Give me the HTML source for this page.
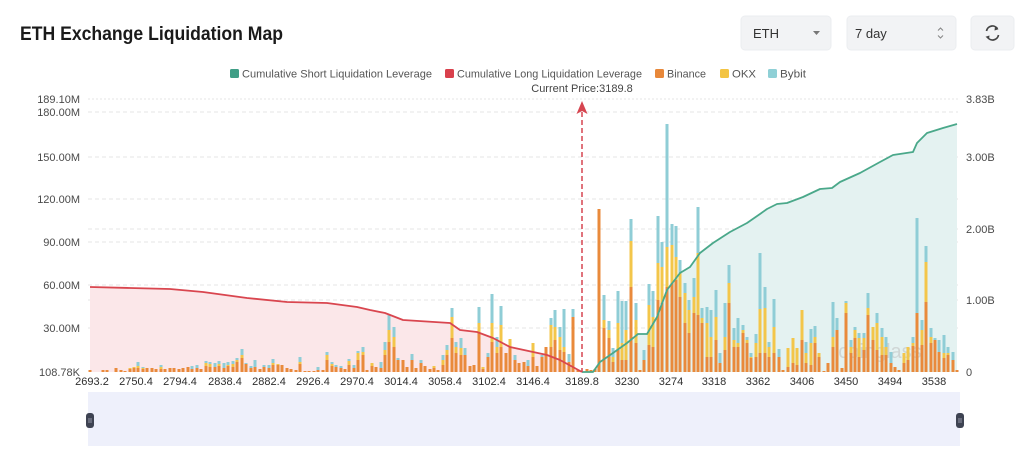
<!DOCTYPE html>
<html><head><meta charset="utf-8"><style>
html,body{margin:0;padding:0;background:#fff;}
svg{display:block;font-family:"Liberation Sans",sans-serif;}
</style></head><body>
<svg width="1024" height="458" viewBox="0 0 1024 458" xmlns="http://www.w3.org/2000/svg">
<rect width="1024" height="458" fill="#fff"/>
<!-- header -->
<text x="20" y="40" font-size="19" font-weight="bold" fill="#1a1a1a" textLength="263" lengthAdjust="spacingAndGlyphs">ETH Exchange Liquidation Map</text>
<rect x="741" y="16" width="90" height="34" rx="4" fill="#f2f3f5" stroke="#ebedf0" stroke-width="1"/>
<text x="753" y="38" font-size="13" fill="#333">ETH</text>
<path d="M813 31l3.5 4 3.5-4z" fill="#777"/>
<rect x="847" y="16" width="109" height="34" rx="4" fill="#f2f3f5" stroke="#ebedf0" stroke-width="1"/>
<text x="855" y="38" font-size="13" fill="#333">7 day</text>
<path d="M938 30.5l2.5-2.5 2.5 2.5M938 35.5l2.5 2.5 2.5-2.5" stroke="#888" stroke-width="1.1" fill="none"/>
<rect x="971" y="16" width="43" height="34" rx="4" fill="#f2f3f5" stroke="#ebedf0" stroke-width="1"/>
<g stroke="#444" stroke-width="1.7" fill="none">
<path d="M986.5 31a6 6 0 0 1 11-2.2"/>
<path d="M998.5 35a6 6 0 0 1-11 2.2"/>
</g>
<path d="M995 26.5l3.5 2.8-4 1.2z M989 39.5l-3.5-2.8 4-1.2z" fill="#444"/>
<!-- legend -->
<g font-size="11" fill="#555">
<rect x="230" y="69" width="9" height="9" rx="1.5" fill="#3f9e86"/>
<text x="242" y="77.5" textLength="190" lengthAdjust="spacingAndGlyphs">Cumulative Short Liquidation Leverage</text>
<rect x="445" y="69" width="9" height="9" rx="1.5" fill="#d9404c"/>
<text x="457" y="77.5" textLength="185" lengthAdjust="spacingAndGlyphs">Cumulative Long Liquidation Leverage</text>
<rect x="655" y="69" width="9" height="9" rx="1.5" fill="#e8883a"/>
<text x="667" y="77.5" textLength="39" lengthAdjust="spacingAndGlyphs">Binance</text>
<rect x="720" y="69" width="9" height="9" rx="1.5" fill="#f3c443"/>
<text x="732" y="77.5" textLength="24" lengthAdjust="spacingAndGlyphs">OKX</text>
<rect x="768" y="69" width="9" height="9" rx="1.5" fill="#8fd0d6"/>
<text x="780" y="77.5" textLength="26" lengthAdjust="spacingAndGlyphs">Bybit</text>
</g>
<text x="582" y="92" font-size="11" fill="#444" text-anchor="middle">Current Price:3189.8</text>
<!-- grid -->
<g stroke="#e4e4e4" stroke-width="1" stroke-dasharray="4 3">
<line x1="88" y1="99" x2="958" y2="99" stroke-dasharray="2 2"/>
<line x1="88" y1="112" x2="958" y2="112"/>
<line x1="88" y1="157" x2="958" y2="157"/>
<line x1="88" y1="199" x2="958" y2="199"/>
<line x1="88" y1="229" x2="958" y2="229"/>
<line x1="88" y1="242" x2="958" y2="242"/>
<line x1="88" y1="285" x2="958" y2="285"/>
<line x1="88" y1="300" x2="958" y2="300"/>
<line x1="88" y1="328" x2="958" y2="328"/>
</g>
<!-- y labels -->
<g font-size="11" fill="#4a4a4a" text-anchor="end">
<text x="80" y="103">189.10M</text>
<text x="80" y="116">180.00M</text>
<text x="80" y="161">150.00M</text>
<text x="80" y="203">120.00M</text>
<text x="80" y="246">90.00M</text>
<text x="80" y="289">60.00M</text>
<text x="80" y="332">30.00M</text>
<text x="80" y="376">108.78K</text>
</g>
<g font-size="11" fill="#4a4a4a">
<text x="966" y="103">3.83B</text>
<text x="966" y="161">3.00B</text>
<text x="966" y="233">2.00B</text>
<text x="966" y="304">1.00B</text>
<text x="966" y="376">0</text>
</g>
<!-- areas -->
<path d="M90 287L130 288L170 289L203 292L247 298L287 302L327 303L357 307L370 310L385 313L403 320L450 323L460 330L477 332L493 338L510 347L547 355L560 360L582 372L90 372Z" fill="#fbe7e9"/>
<path d="M582 372L593 372L600 362L613 353L627 343L638 334L647 334L657 317L667 290L680 273L690 267L700 253L713 243L730 232L747 223L760 214L767 209L777 204L787 203L803 197L820 189L832 188L840 182L860 173L880 162L893 155L913 152L917 143L927 133L943 128L957 124L957 372Z" fill="#e4f2f1"/>
<!-- watermark -->
<text x="880" y="358" font-size="20" fill="#bbb" opacity="0.5" text-anchor="middle">coinglass</text>
<!-- bars -->
<path fill="none" stroke="#8fcdd6" stroke-width="3" d="M138 372V362M143 372V367M161 372V365M192 372V366M197 372V365M206 372V361M210 372V362M215 372V363M219 372V361M224 372V363M228 372V362M233 372V361M237 372V358M242 372V349M246 372V363M251 372V366M255 372V360M264 372V365M269 372V365M273 372V359M300 372V357M318 372V367M327 372V352M332 372V362M336 372V365M341 372V366M349 372V359M354 372V365M358 372V351M363 372V347M381 372V362M385 372V342M389 372V314M394 372V327M398 372V358M412 372V354M421 372V360M443 372V355M447 372V345M452 372V308M456 372V342M461 372V338M465 372V348M479 372V307M488 372V353M492 372V294M497 372V337M501 372V306M515 372V355M528 372V360M542 372V355M551 372V318M555 372V310M560 372V327M564 372V309M569 372V354M573 372V309M604 372V295M609 372V321M613 372V348M618 372V291M622 372V301M626 372V301M631 372V219M636 372V303M644 372V350M649 372V284M653 372V291M658 372V216M662 372V242M667 372V124M672 372V224M676 372V226M680 372V260M685 372V283M689 372V300M694 372V278M698 372V207M702 372V308M707 372V307M711 372V310M716 372V290M720 372V353M725 372V303M729 372V265M734 372V328M738 372V318M743 372V325M747 372V337M751 372V353M756 372V334M760 372V253M765 372V287M769 372V342M774 372V299M779 372V349M806 372V342M811 372V329M815 372V326M833 372V302M837 372V318M846 372V301M851 372V340M855 372V327M859 372V333M864 372V333M868 372V293M877 372V313M882 372V328M886 372V337M891 372V352M913 372V337M917 372V218M922 372V320M926 372V246M931 372V328M935 372V338M939 372V340M944 372V335M948 372V347M953 372V352"/>
<path fill="none" stroke="#f3c64a" stroke-width="3" d="M130 372V368M134 372V367M138 372V366M143 372V368M161 372V367M206 372V363M210 372V364M219 372V364M228 372V365M233 372V364M237 372V360M242 372V355M273 372V363M278 372V364M300 372V362M327 372V355M332 372V364M349 372V361M358 372V353M363 372V352M372 372V363M385 372V350M389 372V330M394 372V337M434 372V366M443 372V360M447 372V350M452 372V317M456 372V347M461 372V348M479 372V323M483 372V367M492 372V323M497 372V347M501 372V325M510 372V339M533 372V343M551 372V325M555 372V327M560 372V337M564 372V347M604 372V320M609 372V330M613 372V357M618 372V323M622 372V343M626 372V330M631 372V241M636 372V320M649 372V305M653 372V317M658 372V263M662 372V267M667 372V247M672 372V245M676 372V257M680 372V273M685 372V293M689 372V310M694 372V297M698 372V253M702 372V318M707 372V323M711 372V337M716 372V317M725 372V337M729 372V283M734 372V340M738 372V343M743 372V330M747 372V340M751 372V357M756 372V343M760 372V309M765 372V308M769 372V347M774 372V327M788 372V348M793 372V338M797 372V348M802 372V310M806 372V353M811 372V343M815 372V337M819 372V353M833 372V337M837 372V330M846 372V303M851 372V347M855 372V330M859 372V338M864 372V338M868 372V308M873 372V327M877 372V323M882 372V337M886 372V347M904 372V353M908 372V347M913 372V343M922 372V330M926 372V262M931 372V337M935 372V343M944 372V353M948 372V353M953 372V360"/>
<path fill="none" stroke="#e98a3b" stroke-width="3" d="M90 372V370M103 372V370M107 372V370M116 372V368M121 372V370M125 372V371M130 372V369M134 372V368M138 372V368M143 372V369M147 372V368M152 372V368M156 372V369M161 372V369M165 372V369M170 372V368M174 372V368M179 372V369M183 372V368M188 372V367M192 372V369M197 372V368M201 372V369M206 372V366M210 372V367M215 372V367M219 372V366M224 372V368M228 372V366M233 372V367M237 372V362M242 372V358M246 372V364M251 372V368M255 372V367M260 372V369M264 372V367M269 372V368M273 372V365M278 372V365M282 372V365M287 372V368M291 372V369M296 372V370M300 372V364M305 372V371M309 372V371M314 372V371M318 372V370M323 372V370M327 372V360M332 372V366M336 372V367M341 372V368M345 372V369M349 372V365M354 372V368M358 372V360M363 372V355M367 372V370M372 372V366M376 372V367M381 372V368M385 372V355M389 372V342M394 372V347M398 372V360M403 372V360M407 372V367M412 372V360M416 372V368M421 372V363M425 372V366M430 372V369M434 372V368M438 372V370M443 372V365M447 372V355M452 372V338M456 372V353M461 372V355M465 372V355M470 372V366M474 372V365M479 372V332M483 372V369M488 372V357M492 372V342M497 372V353M501 372V347M506 372V353M510 372V347M515 372V360M519 372V363M524 372V362M528 372V366M533 372V357M537 372V366M542 372V357M546 372V347M551 372V347M555 372V340M560 372V350M564 372V352M569 372V362M573 372V317M578 372V370M587 372V369M591 372V370M595 372V369M599 372V209M604 372V328M609 372V338M613 372V362M618 372V350M622 372V360M626 372V360M631 372V287M636 372V343M640 372V370M644 372V360M649 372V345M653 372V347M658 372V300M662 372V303M667 372V287M672 372V283M676 372V280M680 372V297M685 372V323M689 372V333M694 372V313M698 372V315M702 372V323M707 372V357M711 372V357M716 372V340M720 372V363M725 372V350M729 372V303M734 372V347M738 372V347M743 372V333M747 372V343M751 372V358M756 372V357M760 372V353M765 372V353M769 372V357M774 372V353M779 372V357M783 372V370M788 372V367M793 372V363M797 372V365M802 372V340M806 372V363M811 372V365M815 372V343M819 372V357M824 372V371M828 372V363M833 372V347M837 372V330M842 372V368M846 372V313M851 372V353M855 372V338M859 372V357M864 372V350M868 372V315M873 372V340M877 372V350M882 372V355M886 372V355M891 372V363M895 372V367M899 372V370M904 372V363M908 372V360M913 372V346M917 372V313M922 372V345M926 372V302M931 372V343M935 372V340M939 372V352M944 372V358M948 372V355M953 372V360M957 372V370"/>
<!-- lines -->
<path d="M90 287L130 288L170 289L203 292L247 298L287 302L327 303L357 307L370 310L385 313L403 320L450 323L460 330L477 332L493 338L510 347L547 355L560 360L582 372" fill="none" stroke="#d9464f" stroke-width="1.8" stroke-linejoin="round"/>
<path d="M582 372L593 372L600 362L613 353L627 343L638 334L647 334L657 317L667 290L680 273L690 267L700 253L713 243L730 232L747 223L760 214L767 209L777 204L787 203L803 197L820 189L832 188L840 182L860 173L880 162L893 155L913 152L917 143L927 133L943 128L957 124" fill="none" stroke="#4aa88a" stroke-width="1.8" stroke-linejoin="round"/>
<!-- current price arrow -->
<line x1="582" y1="112" x2="582" y2="372" stroke="#d64550" stroke-width="1.5" stroke-dasharray="5 3"/>
<path d="M576.5 114L582 101L587.5 114L582 111Z" fill="#d64550"/>
<!-- x labels -->
<g font-size="11" fill="#2e2e2e" text-anchor="middle">
<text x="92" y="385">2693.2</text>
<text x="136" y="385">2750.4</text>
<text x="180" y="385">2794.4</text>
<text x="225" y="385">2838.4</text>
<text x="269" y="385">2882.4</text>
<text x="313" y="385">2926.4</text>
<text x="357" y="385">2970.4</text>
<text x="401" y="385">3014.4</text>
<text x="445" y="385">3058.4</text>
<text x="489" y="385">3102.4</text>
<text x="533" y="385">3146.4</text>
<text x="582" y="385">3189.8</text>
<text x="627" y="385">3230</text>
<text x="671" y="385">3274</text>
<text x="714" y="385">3318</text>
<text x="758" y="385">3362</text>
<text x="802" y="385">3406</text>
<text x="846" y="385">3450</text>
<text x="890" y="385">3494</text>
<text x="934" y="385">3538</text>
</g>
<!-- slider -->
<rect x="88" y="392" width="872" height="54" fill="#eef0fb"/>
<rect x="86" y="413" width="8" height="15" rx="3" fill="#3e4352"/>
<rect x="956" y="413" width="8" height="15" rx="3" fill="#3e4352"/>
<g stroke="#aab" stroke-width="0.8">
<line x1="89" y1="418" x2="89" y2="423"/><line x1="91" y1="418" x2="91" y2="423"/>
<line x1="959" y1="418" x2="959" y2="423"/><line x1="961" y1="418" x2="961" y2="423"/>
</g>
</svg>
</body></html>
